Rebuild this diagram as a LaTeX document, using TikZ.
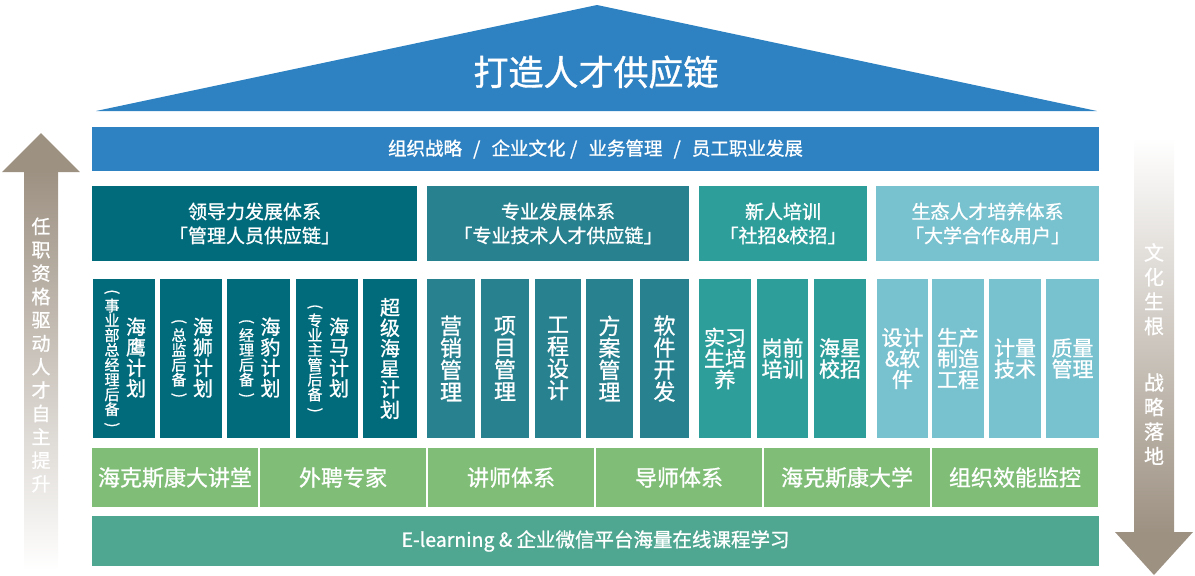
\documentclass[tikz,border=0pt]{standalone}
\usepackage{fontspec}
\setmainfont{Noto Sans CJK SC}[FakeBold=1]
\usetikzlibrary{calc,shadings}
\definecolor{roofblue}{HTML}{2E82C1}
\definecolor{leadteal}{HTML}{026B7B}
\definecolor{protteal}{HTML}{28818F}
\definecolor{newteal}{HTML}{2E9E9B}
\definecolor{ecolight}{HTML}{78C1CE}
\definecolor{greenrow}{HTML}{80BE78}
\definecolor{baseteal}{HTML}{4FA792}
\definecolor{arrowgray}{HTML}{9D9182}
\newcommand{\lparv}{\rotatebox[origin=c]{-90}{(}}
\newcommand{\rparv}{\rotatebox[origin=c]{-90}{)}}
\tikzset{
    block/.style = {rectangle, inner sep=0pt, text=white, align=center},
    band/.style = {block, minimum height=44pt, font=\fontsize{18.5}{22}\selectfont},
    head/.style = {block, minimum height=75pt, font=\fontsize{19}{24}\selectfont},
    pillar/.style = {block, minimum height=159pt},
    cell/.style = {block, fill=greenrow, minimum width=166pt, minimum height=59pt,
        font=\fontsize{22}{24}\selectfont},
    vtext/.style = {text=white, align=center, inner sep=0pt},
    bigtxt/.style = {vtext, font=\fontsize{20}{20.5}\selectfont},
    subtxt/.style = {vtext, font=\fontsize{15}{14.8}\selectfont},
    stxt/.style = {vtext, font=\fontsize{22}{22}\selectfont},
    ptxt/.style = {vtext, font=\fontsize{21}{21}\selectfont}
}
\begin{document}
\begin{tikzpicture}[x=1pt,y=-1pt]
    \useasboundingbox (0,0) rectangle (1195,576);
    % roof
    \fill[roofblue] (96,111) -- (597,5) -- (1097,111) -- cycle;
    \node[vtext, font=\fontsize{35}{38}\selectfont] (title) at (596,72) {打造人才供应链};
    \node[band, fill=roofblue, minimum width=1007pt] (strategy) at (595.5,149)
        {组织战略\hspace{0.6em}/\hspace{0.6em}企业文化\hspace{0.25em}/\hspace{0.6em}业务管理\hspace{0.6em}/\hspace{0.6em}员工职业发展};
    % headers
    \node[head, fill=leadteal, minimum width=325pt] (lead) at (254.5,223.5) {领导力发展体系\\「管理人员供应链」};
    \node[head, fill=protteal, minimum width=262pt] (prof) at (558,223.5) {专业发展体系\\「专业技术人才供应链」};
    \node[head, fill=newteal, minimum width=168pt] (fresh) at (783,223.5) {新人培训\\「社招\&校招」};
    \node[head, fill=ecolight, minimum width=223pt] (eco) at (987.5,223.5) {生态人才培养体系\\「大学合作\&用户」};
    % leadership pillars
    \foreach \i/\a/\b/\main/\sub in {1/92.7/155.3/{海\\鹰\\计\\划}/{\lparv\\事\\业\\部\\总\\经\\理\\后\\备\\\rparv},
        2/160/222/{海\\狮\\计\\划}/{\lparv\\总\\监\\后\\备\\\rparv},
        3/227/290/{海\\豹\\计\\划}/{\lparv\\经\\理\\后\\备\\\rparv},
        4/296/358/{海\\马\\计\\划}/{\lparv\\专\\业\\主\\管\\后\\备\\\rparv}} {
        \node[pillar, fill=leadteal, minimum width={(\b-\a)*1pt}] (l\i) at ({(\a+\b)/2},358.5) {};
        \node[bigtxt] (lm\i) at ($(l\i.center)+(12,-1)$) {\main};
        \node[subtxt] (ls\i) at ($(l\i.center)+(-12,1)$) {\sub};
    }
    \node[pillar, fill=leadteal, minimum width=54pt] (l5) at (390,358.5) {};
    \node[bigtxt] (lm5) at (l5.center) {超\\级\\海\\星\\计\\划};
    % professional pillars
    \foreach \i/\a/\b/\txt in {1/427/475/{营\\销\\管\\理}, 2/481/529/{项\\目\\管\\理},
        3/535/581/{工\\程\\设\\计}, 4/586/633/{方\\案\\管\\理}, 5/640/689/{软\\件\\开\\发}} {
        \node[pillar, fill=protteal, minimum width={(\b-\a)*1pt}] (s\i) at ({(\a+\b)/2},358.5) {};
        \node[stxt] (st\i) at (s\i.center) {\txt};
    }
    % new staff pillars
    \foreach \i/\a/\b/\txt in {1/699/751/{实习\\生培\\养}, 2/757/808/{岗前\\培训}, 3/814/866/{海星\\校招}} {
        \node[pillar, fill=newteal, minimum width={(\b-\a)*1pt}] (n\i) at ({(\a+\b)/2},358.5) {};
        \node[ptxt] (nt\i) at (n\i.center) {\txt};
    }
    % ecosystem pillars
    \foreach \i/\a/\b/\txt in {1/877/928/{设计\\\&软\\件}, 2/932/984/{生产\\制造\\工程},
        3/989/1041/{计量\\技术}, 4/1046/1099/{质量\\管理}} {
        \node[pillar, fill=ecolight, minimum width={(\b-\a)*1pt}] (e\i) at ({(\a+\b)/2},358.5) {};
        \node[ptxt] (et\i) at (e\i.center) {\txt};
    }
    % support row
    \foreach \i/\txt in {0/海克斯康大讲堂, 1/外聘专家, 2/讲师体系, 3/导师体系, 4/海克斯康大学, 5/组织效能监控} {
        \node[cell] (g\i) at ({175+168*\i},477.5) {\txt};
    }
    \node[band, fill=baseteal, minimum width=1007pt, minimum height=50pt,
        font=\fontsize{19.5}{22}\selectfont] (online) at (595.5,541)
        {E-learning \& 企业微信平台海量在线课程学习};
    % side arrows
    \shade[top color=arrowgray, bottom color=white] (24,171) rectangle (58,570);
    \fill[arrowgray] (2,172) -- (41,133) -- (80,172) -- cycle;
    \node[vtext, font=\fontsize{19}{23.4}\selectfont] (rise) at (41,355)
        {任\\职\\资\\格\\驱\\动\\人\\才\\自\\主\\提\\升};
    \shade[top color=white, bottom color=arrowgray] (1134,138) rectangle (1174,533);
    \fill[arrowgray] (1115,532) -- (1193,532) -- (1154,575) -- cycle;
    \node[vtext, font=\fontsize{20}{24.5}\selectfont] (root) at (1154,354)
        {文\\化\\生\\根\\[32pt]战\\略\\落\\地};
\end{tikzpicture}
\end{document}
